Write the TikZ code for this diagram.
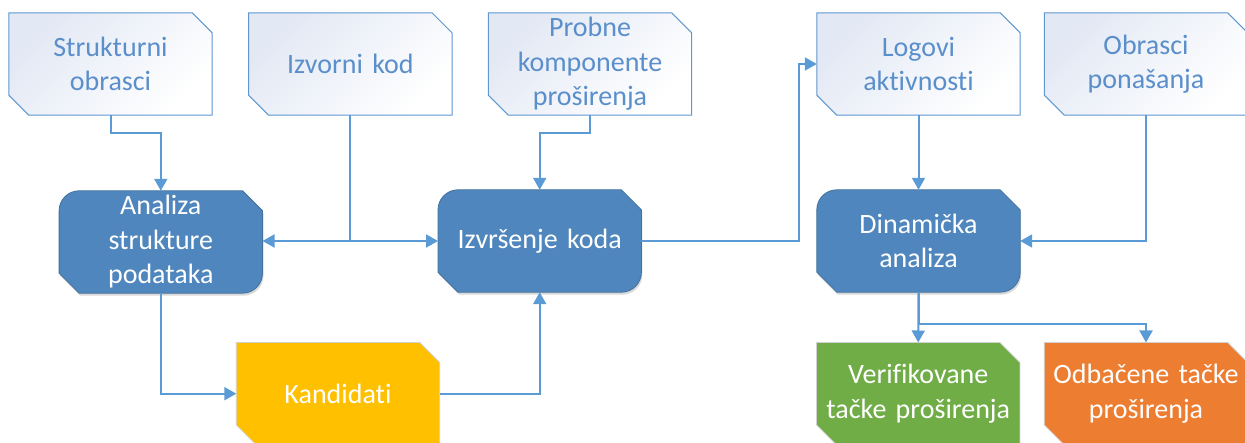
\documentclass[tikz,border=0pt]{standalone}
\usepackage{fontspec}
\setmainfont{Carlito}[Ligatures=NoCommon]
\usetikzlibrary{arrows.meta,shadows}

\definecolor{wire}{HTML}{5B9BD5}
\definecolor{intext}{HTML}{5A8FCB}
\definecolor{inedge}{HTML}{5F97D0}
\definecolor{inshade}{HTML}{E2E8F4}
\definecolor{procfill}{HTML}{4F86BD}
\definecolor{procedge}{HTML}{41719C}
\definecolor{candfill}{HTML}{FFC000}
\definecolor{okfill}{HTML}{70AD47}
\definecolor{rejfill}{HTML}{ED7D31}

\pgfdeclarelayer{background}
\pgfsetlayers{background,main}

% outline with snipped top-right and bottom-left corners
\newcommand\snipbox[2]{%
  \path[#2] ([xshift=-20pt]#1.north east) -- ([yshift=-20pt]#1.north east)
    -- (#1.south east) -- ([xshift=20pt]#1.south west)
    -- ([yshift=20pt]#1.south west) -- (#1.north west) -- cycle;}
% outline with rounded top-left/bottom-right and snipped top-right/bottom-left
\newcommand\procbox[2]{%
  \path[#2] ([yshift=-20pt]#1.north west) arc[start angle=180,end angle=90,radius=20pt]
    -- ([xshift=-20pt]#1.north east) -- ([yshift=-20pt]#1.north east)
    -- ([yshift=20pt]#1.south east) arc[start angle=0,end angle=-90,radius=20pt]
    -- ([xshift=20pt]#1.south west) -- ([yshift=20pt]#1.south west) -- cycle;}

\tikzset{
  box/.style={minimum height=102pt, text width=203pt, inner sep=0pt,
    align=center, font=\fontsize{28}{34.5}\selectfont},
  inbox/.style={box, text=intext},
  fillbox/.style={box, text=white},
  inshape/.style={draw=inedge, line width=1pt, top color=inshade,
    bottom color=white, shading angle=45},
  procshape/.style={fill=procfill, draw=procedge, line width=0.8pt,
    drop shadow={shadow xshift=1pt, shadow yshift=-2.5pt, opacity=0.3}},
  outshape/.style={draw=black!18, line width=0.8pt},
  conn/.style={draw=wire, line width=2pt,
    -{Triangle[length=12pt,width=13pt]}}
}

\begin{document}
\begin{tikzpicture}[x=1pt,y=1pt]
\useasboundingbox (0,0) rectangle (1245,-443);

% sources
\node[inbox] (s1) at (110.5,-64) {Strukturni\\obrasci};
\node[inbox] (s2) at (350.3,-64) {Izvorni kod};
\node[inbox] (s3) at (590,-64) {Probne\\komponente\\proširenja};
\node[inbox] (s4) at (918.5,-64) {Logovi\\aktivnosti};
\node[inbox] (s5) at (1146,-64) {Obrasci\\ponašanja};

% processing steps
\node[fillbox] (p1) at (160.8,-242) {Analiza\\strukture\\podataka};
\node[fillbox] (p2) at (539.7,-241) {Izvršenje koda};
\node[fillbox] (p3) at (918.5,-241) {Dinamička\\analiza};

% results
\node[fillbox] (o1) at (338,-393.7) {Kandidati};
\node[fillbox] (o2) at (918.2,-393.7) {Verifikovane\\tačke proširenja};
\node[fillbox] (o3) at (1146,-393.7) {Odbačene tačke\\proširenja};

\begin{pgfonlayer}{background}
  \snipbox{s1}{inshape}
  \snipbox{s2}{inshape}
  \snipbox{s3}{inshape}
  \snipbox{s4}{inshape}
  \snipbox{s5}{inshape}
  \procbox{p1}{procshape}
  \procbox{p2}{procshape}
  \procbox{p3}{procshape}
  \snipbox{o1}{outshape, fill=candfill}
  \snipbox{o2}{outshape, fill=okfill}
  \snipbox{o3}{outshape, fill=rejfill}
\end{pgfonlayer}

% connectors
\draw[conn] (s1.south) -- ++(0,-18.3) -| (p1.north);
\draw[conn] (s2.south) |- ([yshift=1pt]p1.east);
\draw[conn] (s2.south) |- (p2.west);
\draw[conn] (s3.south) -- ++(0,-18.3) -| (p2.north);
\draw[conn] (p2.east) -- ++(157.5,0) |- (s4.west);
\draw[conn] (s4.south) -- (p3.north);
\draw[conn] (s5.south) |- (p3.east);
\draw[conn] (p1.south) |- (o1.west);
\draw[conn] (o1.east) -| (p2.south);
\draw[conn] (p3.south) -- (o2.north);
\draw[conn] (p3.south) -- ++(0,-32) -| (o3.north);
\end{tikzpicture}
\end{document}
